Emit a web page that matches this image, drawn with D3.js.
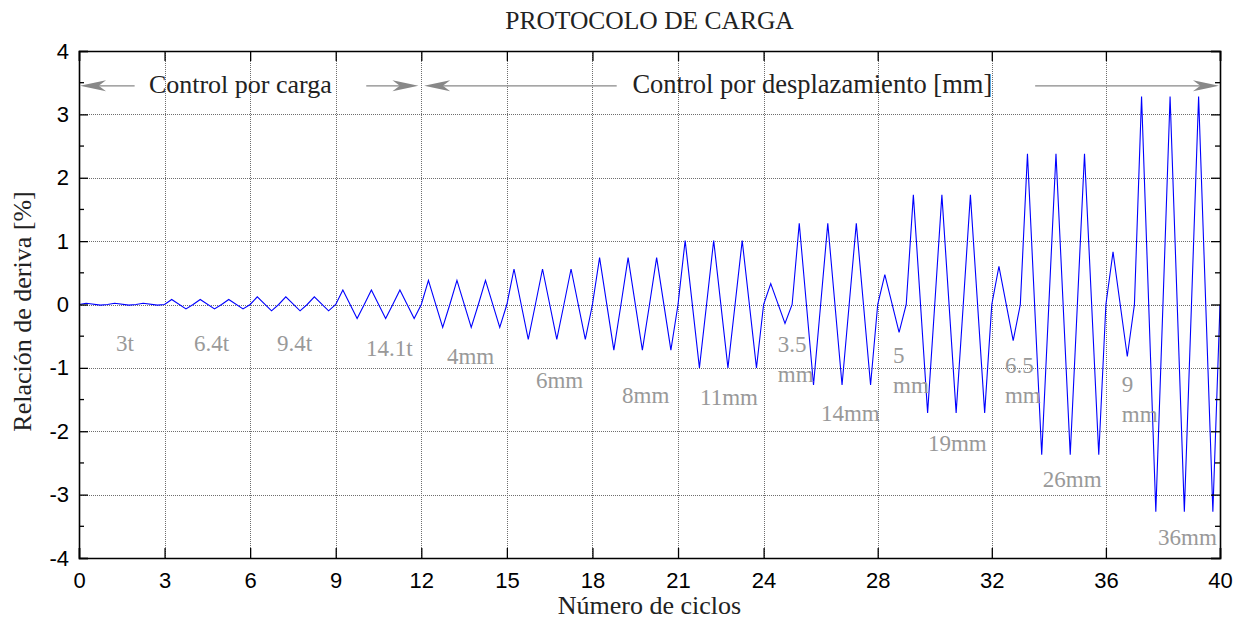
<!DOCTYPE html>
<html>
<head>
<meta charset="utf-8">
<script src="https://cdn.jsdelivr.net/npm/d3@7"></script>
<style>
  body { margin: 0; background: #fff; }
  svg { display: block; }
</style>
</head>
<body>
<div id="chart"></div>
<script>
// tick values
const xTicks = [0, 3, 6, 9, 12, 15, 18, 21, 24, 28, 32, 36, 40];
const yTicks = [-4, -3, -2, -1, 0, 1, 2, 3, 4];

// loading stages: number of cycles and peak drift (%) per stage
const stageCycles = [3, 3, 3, 3, 3, 3, 3, 3, 1, 3, 1, 3, 1, 3, 1, 3];
const stagePeakUp = [0.02, 0.08, 0.12, 0.23, 0.38, 0.56, 0.74, 1.01, 0.33, 1.28, 0.47, 1.73, 0.60, 2.38, 0.83, 3.28];
const stagePeakDown = [-0.01, -0.07, -0.10, -0.22, -0.36, -0.55, -0.72, -1.00, -0.30, -1.27, -0.44, -1.71, -0.57, -2.37, -0.82, -3.27];

// stage labels (text lines, anchored at cycle / drift)
const stageText = [
    ["3t"], ["6.4t"], ["9.4t"], ["14.1t"],
    ["4mm"], ["6mm"], ["8mm"], ["11mm"],
    ["3.5", "mm"], ["14mm"], ["5", "mm"], ["19mm"],
    ["6.5", "mm"], ["26mm"], ["9", "mm"], ["36mm"]
];
const stageTextX = [1.30, 4.03, 6.94, 10.06, 12.90, 16.02, 19.04, 21.77, 24.50, 26.01, 28.54, 29.76, 32.46, 33.79, 36.56, 37.83];
const stageTextY = [-0.73, -0.73, -0.73, -0.81, -0.94, -1.32, -1.55, -1.59, -0.75, -1.84, -0.92, -2.31, -1.08, -2.88, -1.38, -3.79];

const width = 1242, height = 622;
const margin = {top: 51, right: 22, bottom: 64, left: 79};
const serif = "'Liberation Serif', 'DejaVu Serif', serif";
const sans = "'Liberation Sans', Arial, sans-serif";

const svg = d3.select("#chart").append("svg")
    .attr("width", width)
    .attr("height", height);

const x = d3.scaleLinear().domain([0, 40]).range([margin.left, width - margin.right]);
const y = d3.scaleLinear().domain([-4, 4]).range([height - margin.bottom, margin.top]);

// build the cyclic history from the stage peaks
let pts = [];
let c = 0;
stageCycles.forEach((n, i) => {
    for (let k = 0; k < n; k++) {
        pts.push([c, 0]);
        pts.push([c + 0.25, stagePeakUp[i]]);
        pts.push([c + 0.75, stagePeakDown[i]]);
        c++;
    }
});
pts.push([c, 0]);

// grid
const grid = svg.append("g")
    .attr("stroke", "#6e6e6e")
    .attr("stroke-width", 1)
    .attr("stroke-dasharray", "1,1");
grid.selectAll(".gx")
    .data(xTicks.slice(1, -1))
    .enter().append("line")
    .attr("x1", d => Math.round(x(d)) + 0.5)
    .attr("x2", d => Math.round(x(d)) + 0.5)
    .attr("y1", y(4))
    .attr("y2", y(-4));
grid.selectAll(".gy")
    .data(yTicks.slice(1, -1))
    .enter().append("line")
    .attr("y1", d => Math.round(y(d)) + 0.5)
    .attr("y2", d => Math.round(y(d)) + 0.5)
    .attr("x1", x(0))
    .attr("x2", x(40));

// signal
const line = d3.line().x(d => x(d[0])).y(d => y(d[1]));
svg.append("path")
    .datum(pts)
    .attr("fill", "none")
    .attr("stroke", "#0000ff")
    .attr("stroke-width", 1.1)
    .attr("d", line);

// axes (ticks inward), plain hyphen for negatives
const fmt = d => String(d);
const xAxis = d3.axisBottom(x).tickValues(xTicks).tickSize(-10).tickPadding(14).tickFormat(fmt);
const yAxis = d3.axisLeft(y).tickValues(yTicks).tickSize(-9).tickPadding(10).tickFormat(fmt);

svg.append("g").attr("transform", `translate(0,${y(-4)})`).call(xAxis);
svg.append("g").attr("transform", `translate(${x(0)},0)`).call(yAxis);
svg.append("g").attr("transform", `translate(0,${y(4)})`)
    .call(d3.axisTop(x).tickValues(xTicks).tickSize(-10).tickFormat(""));
svg.append("g").attr("transform", `translate(${x(40)},0)`)
    .call(d3.axisRight(y).tickValues(yTicks).tickSize(-9).tickFormat(""));

// minor y ticks
const minorY = d3.range(-3.5, 4, 1);
[[x(0), 5], [x(40), -5]].forEach(([x0, len]) => {
    svg.append("g").selectAll("line")
        .data(minorY)
        .enter().append("line")
        .attr("x1", x0).attr("x2", x0 + len)
        .attr("y1", d => y(d)).attr("y2", d => y(d))
        .attr("stroke", "#000").attr("stroke-width", 1.3);
});

svg.selectAll(".domain").attr("stroke", "#000").attr("stroke-width", 1.6);
svg.selectAll(".tick line").attr("stroke", "#000").attr("stroke-width", 1.3);
svg.selectAll(".tick text")
    .attr("font-family", sans)
    .attr("font-size", 22)
    .attr("fill", "#000");

// titles
svg.append("text")
    .attr("x", (x(0) + x(40)) / 2)
    .attr("y", 29)
    .attr("text-anchor", "middle")
    .attr("font-family", serif)
    .attr("font-size", 25.5)
    .attr("fill", "#222")
    .text("PROTOCOLO DE CARGA");

svg.append("text")
    .attr("x", (x(0) + x(40)) / 2)
    .attr("y", 614)
    .attr("text-anchor", "middle")
    .attr("font-family", serif)
    .attr("font-size", 26)
    .attr("fill", "#222")
    .text("Número de ciclos");

svg.append("text")
    .attr("transform", `translate(31,${y(0) + 7}) rotate(-90)`)
    .attr("text-anchor", "middle")
    .attr("font-family", serif)
    .attr("font-size", 26)
    .attr("fill", "#222")
    .text("Relación de deriva [%]");

// control regime arrows
const arrowY = y(3.45);
function arrow(xFrom, xTip) {
    const dir = xTip > xFrom ? 1 : -1;
    svg.append("line")
        .attr("x1", xFrom).attr("x2", xTip - dir * 10)
        .attr("y1", arrowY).attr("y2", arrowY)
        .attr("stroke", "#888").attr("stroke-width", 1.3);
    const L = 26, h = 5.5;
    svg.append("path")
        .attr("d", `M${xTip},${arrowY} L${xTip - dir * L},${arrowY - h} L${xTip - dir * L * 0.72},${arrowY} L${xTip - dir * L},${arrowY + h} Z`)
        .attr("fill", "#888");
}
arrow(x(1.95), x(0) + 1);
arrow(x(10.07), x(11.9));
arrow(x(18.85), x(12.1));
arrow(x(33.52), x(40) - 1);

svg.append("text")
    .attr("x", x(2.45)).attr("y", arrowY + 7)
    .attr("font-family", serif).attr("font-size", 26)
    .attr("fill", "#222")
    .text("Control por carga");
svg.append("text")
    .attr("x", x(19.4)).attr("y", arrowY + 7)
    .attr("font-family", serif).attr("font-size", 26.5)
    .attr("fill", "#222")
    .text("Control por desplazamiento [mm]");

// stage labels
const lab = svg.append("g")
    .attr("font-family", serif)
    .attr("font-size", 23)
    .attr("fill", "#999");
stageText.forEach((lines, i) => {
    const t = lab.append("text")
        .attr("x", x(stageTextX[i]))
        .attr("y", y(stageTextY[i]));
    lines.forEach((s, j) => {
        t.append("tspan")
            .attr("x", x(stageTextX[i]))
            .attr("dy", j === 0 ? 0 : 30)
            .text(s);
    });
});
</script>
</body>
</html>
